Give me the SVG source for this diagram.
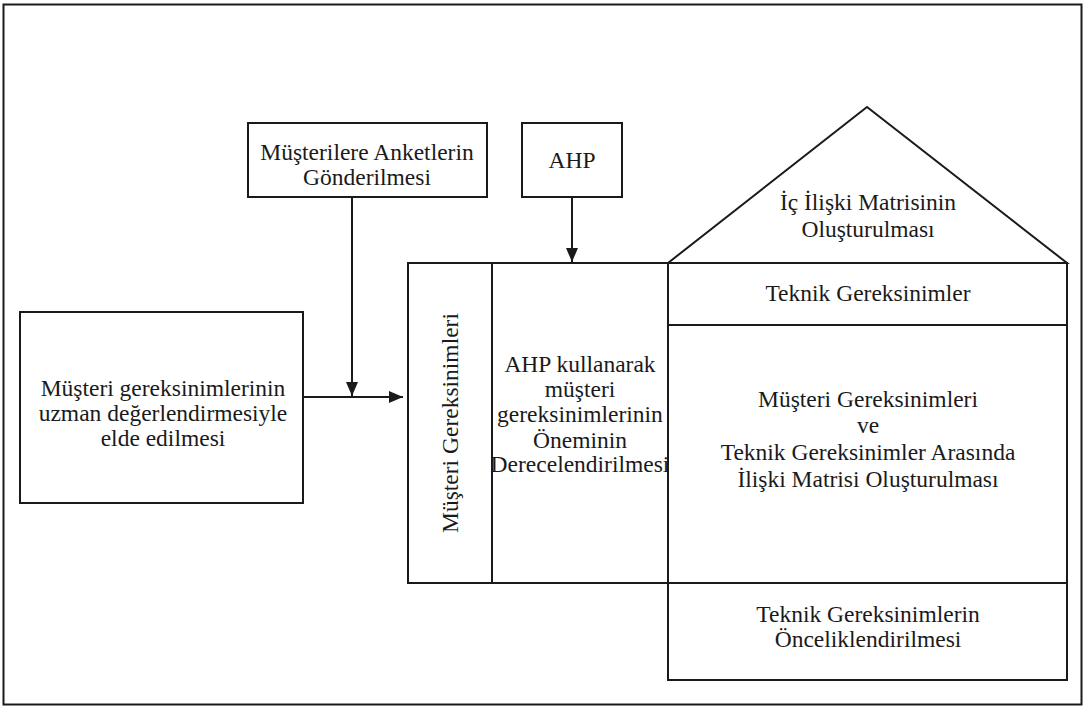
<svg xmlns="http://www.w3.org/2000/svg" width="1085" height="707" viewBox="0 0 1085 707">
  <style>
    .box { fill: #fff; stroke: #1a1a1a; stroke-width: 2; }
    .line { fill: none; stroke: #1a1a1a; stroke-width: 2; }
    .lbl { font-size: 23.5px; fill: #1a1a1a; text-anchor: middle; }
  </style>
  <defs>
    <marker id="arrow" viewBox="0 0 14 12" refX="14" refY="6" markerWidth="14" markerHeight="12" markerUnits="userSpaceOnUse" orient="auto">
      <path d="M0,0 L14,6 L0,12 Z" fill="#1a1a1a"/>
    </marker>
  </defs>

  <rect width="1085" height="707" fill="#fff"/>
  <!-- outer frame -->
  <rect x="3.5" y="4.5" width="1078" height="700" fill="none" stroke="#1a1a1a" stroke-width="2"/>

  <g font-family="'Liberation Serif', 'DejaVu Serif', serif">
  <g id="node-expert">
    <rect class="box" x="20" y="312" width="283" height="191"/>
    <text class="lbl" x="163" y="396">Müşteri gereksinimlerinin</text>
    <text class="lbl" x="163" y="421">uzman değerlendirmesiyle</text>
    <text class="lbl" x="163" y="446">elde edilmesi</text>
  </g>

  <g id="node-survey">
    <rect class="box" x="248" y="123" width="239" height="74"/>
    <text class="lbl" x="367" y="160">Müşterilere Anketlerin</text>
    <text class="lbl" x="367" y="185">Gönderilmesi</text>
  </g>

  <g id="node-ahp">
    <rect class="box" x="522" y="123" width="100" height="74"/>
    <text class="lbl" x="572" y="168">AHP</text>
  </g>

  <g id="node-customer-req">
    <rect class="box" x="408" y="263" width="84" height="320"/>
    <text class="lbl" transform="translate(458 423) rotate(-90)">Müşteri Gereksinimleri</text>
  </g>

  <g id="node-ahp-rating">
    <rect class="box" x="492" y="263" width="176" height="320"/>
    <text class="lbl" x="580" y="372">AHP kullanarak</text>
    <text class="lbl" x="580" y="397">müşteri</text>
    <text class="lbl" x="580" y="422">gereksinimlerinin</text>
    <text class="lbl" x="580" y="448">Öneminin</text>
    <text class="lbl" x="580" y="472">Derecelendirilmesi</text>
  </g>

  <g id="node-roof">
    <path class="box" d="M668,263 L867,107 L1067,263 Z"/>
    <text class="lbl" x="868" y="210">İç İlişki Matrisinin</text>
    <text class="lbl" x="868" y="237">Oluşturulması</text>
  </g>

  <g id="node-technical-req">
    <rect class="box" x="668" y="263" width="399" height="62"/>
    <text class="lbl" x="868" y="301">Teknik Gereksinimler</text>
  </g>

  <g id="node-relation-matrix">
    <rect class="box" x="668" y="325" width="399" height="258"/>
    <text class="lbl" x="868" y="407">Müşteri Gereksinimleri</text>
    <text class="lbl" x="868" y="433">ve</text>
    <text class="lbl" x="868" y="460">Teknik Gereksinimler Arasında</text>
    <text class="lbl" x="868" y="487">İlişki Matrisi Oluşturulması</text>
  </g>

  <g id="node-prioritization">
    <rect class="box" x="668" y="583" width="399" height="97"/>
    <text class="lbl" x="868" y="622">Teknik Gereksinimlerin</text>
    <text class="lbl" x="868" y="647">Önceliklendirilmesi</text>
  </g>
  </g>

  <g id="connectors">
    <line class="line" x1="303" y1="397" x2="403" y2="397" marker-end="url(#arrow)"/>
    <line class="line" x1="352" y1="197" x2="352" y2="396" marker-end="url(#arrow)"/>
    <line class="line" x1="572" y1="197" x2="572" y2="262" marker-end="url(#arrow)"/>
  </g>
</svg>
